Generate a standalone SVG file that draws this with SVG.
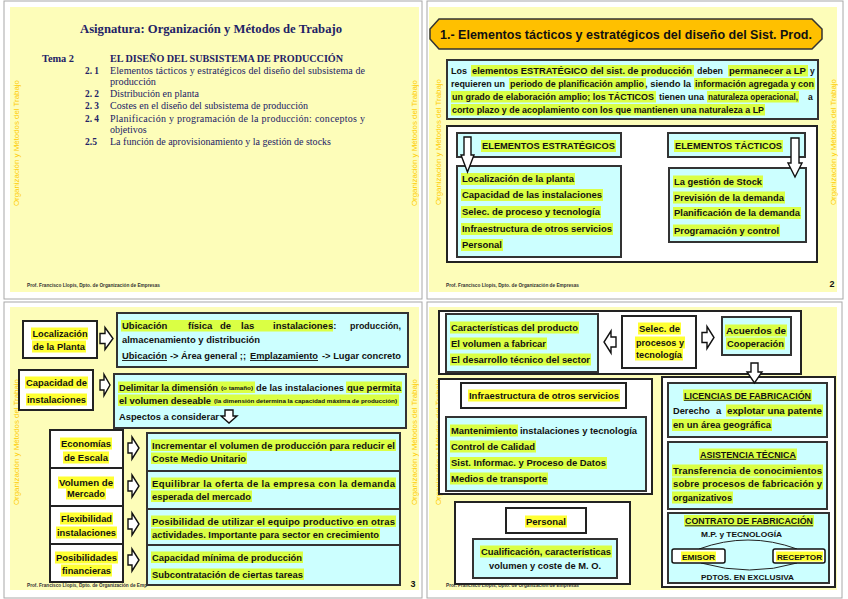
<svg xmlns="http://www.w3.org/2000/svg" width="848" height="599" viewBox="0 0 848 599">
<style>
text{font-family:"Liberation Sans",Arial,sans-serif;fill:#111}
.ser{font-family:"Liberation Serif","Times New Roman",serif;fill:#222266;font-size:10px}
.sb{font-weight:bold}
.frame{fill:#fff;stroke:#a8a8a8;stroke-width:1}
.bg{fill:#fdfdb9}
.side{font-size:7.5px;fill:#ffcc00}
.foot{font-size:5px;font-weight:bold;fill:#333}
.cy{fill:#ccffff;stroke:#333;stroke-width:2}
.wb{fill:#fff;stroke:#222;stroke-width:2}
.hl{fill:#daff44}
.hy{fill:#ffff33}
.arr{fill:#fff;stroke:#111;stroke-width:1.4;stroke-linejoin:miter}
.b{font-weight:bold;font-size:9.5px}
.b85{font-weight:bold;font-size:8.5px}
.b8{font-weight:bold;font-size:8px}
.sm{font-weight:bold;font-size:4.5px}
.ul{stroke:#111;stroke-width:0.9}
.arc{fill:none;stroke:#222;stroke-width:1}
.num{font-weight:bold;font-size:9px}
</style>
<rect width="848" height="599" fill="#fff"/>

<!-- ============ SLIDE 1 ============ -->
<g id="slide1">
<rect class="frame" x="4" y="1" width="418" height="298"/>
<rect class="bg" x="10" y="7" width="409" height="285"/>
<text class="side" transform="translate(19,206) rotate(-90)" textLength="126" lengthAdjust="spacingAndGlyphs">Organización y Métodos del Trabajo</text>
<text class="side" transform="translate(416.5,206) rotate(-90)" textLength="126" lengthAdjust="spacingAndGlyphs">Organización y Métodos del Trabajo</text>
<text class="foot" x="27" y="287" textLength="133" lengthAdjust="spacingAndGlyphs">Prof. Francisco Llopis, Dpto. de Organización de Empresas</text>
<text class="ser sb" x="80" y="33" style="font-size:12.6px" textLength="262" lengthAdjust="spacingAndGlyphs">Asignatura: Organización y Métodos de Trabajo</text>
<text class="ser sb" x="42" y="61.5" textLength="32" lengthAdjust="spacingAndGlyphs">Tema 2</text>
<text class="ser sb" x="110" y="61.5" textLength="233" lengthAdjust="spacingAndGlyphs">EL DISEÑO DEL SUBSISTEMA DE PRODUCCIÓN</text>
<text class="ser sb" x="85" y="74" textLength="14" lengthAdjust="spacingAndGlyphs">2. 1</text>
<text class="ser" x="110" y="74" textLength="255">Elementos tácticos y estratégicos del diseño del subsistema de</text>
<text class="ser" x="110" y="85" textLength="46" lengthAdjust="spacingAndGlyphs">producción</text>
<text class="ser sb" x="85" y="96.5" textLength="14" lengthAdjust="spacingAndGlyphs">2. 2</text>
<text class="ser" x="110" y="96.5" textLength="89" lengthAdjust="spacingAndGlyphs">Distribución en planta</text>
<text class="ser sb" x="85" y="109" textLength="14" lengthAdjust="spacingAndGlyphs">2. 3</text>
<text class="ser" x="110" y="109" textLength="198" lengthAdjust="spacingAndGlyphs">Costes en el diseño del subsistema de producción</text>
<text class="ser sb" x="85" y="121.5" textLength="14" lengthAdjust="spacingAndGlyphs">2. 4</text>
<text class="ser" x="110" y="121.5" textLength="255">Planificación y programación de la producción: conceptos y</text>
<text class="ser" x="110" y="132.5">objetivos</text>
<text class="ser sb" x="85" y="144.5" textLength="12" lengthAdjust="spacingAndGlyphs">2.5</text>
<text class="ser" x="110" y="144.5" textLength="221" lengthAdjust="spacingAndGlyphs">La función de aprovisionamiento y la gestión de stocks</text>
</g>

<!-- ============ SLIDE 2 ============ -->
<g id="slide2">
<rect class="frame" x="427" y="1" width="416" height="298"/>
<rect class="bg" x="429" y="7" width="408" height="285"/>
<text class="side" transform="translate(441,205) rotate(-90)" textLength="126" lengthAdjust="spacingAndGlyphs">Organización y Métodos del Trabajo</text>
<text class="side" transform="translate(835.5,205) rotate(-90)" textLength="126" lengthAdjust="spacingAndGlyphs">Organización y Métodos del Trabajo</text>
<text class="foot" x="446" y="287" textLength="133" lengthAdjust="spacingAndGlyphs">Prof. Francisco Llopis, Dpto. de Organización de Empresas</text>
<text class="num" x="832" y="287" text-anchor="middle">2</text>

<g id="s2-title">
<polygon points="439,19 812,19 822,29 822,39 812,49 439,49 430,39 430,29" fill="#ffc000" stroke="#333" stroke-width="1.5"/>
<text x="440" y="39" style="font-weight:bold;font-size:12.5px" textLength="372" lengthAdjust="spacingAndGlyphs">1.- Elementos tácticos y estratégicos del diseño del Sist. Prod.</text>
</g>

<g id="s2-paragraph">
<rect class="cy" x="447" y="60" width="371" height="59"/>
<rect class="hl" x="471" y="65" width="223" height="11.5"/>
<rect class="hl" x="728" y="65" width="80" height="11.5"/>
<rect class="hl" x="509" y="78" width="137" height="11.5"/>
<rect class="hl" x="694" y="78" width="121" height="11.5"/>
<rect class="hl" x="451" y="91" width="205" height="11.5"/>
<rect class="hl" x="707" y="91" width="92" height="11.5"/>
<rect class="hl" x="451" y="104" width="314" height="11.5"/>
<text class="b85" x="451" y="74" textLength="16" lengthAdjust="spacingAndGlyphs">Los</text>
<text class="b85" x="472" y="74" textLength="220" lengthAdjust="spacingAndGlyphs">elementos ESTRATÉGICO del sist. de producción</text>
<text class="b85" x="697" y="74" textLength="26" lengthAdjust="spacingAndGlyphs">deben</text>
<text class="b85" x="729" y="74" textLength="77" lengthAdjust="spacingAndGlyphs">permanecer a LP</text>
<text class="b85" x="810" y="74">y</text>
<text class="b85" x="451" y="87" textLength="54" lengthAdjust="spacingAndGlyphs">requieren un</text>
<text class="b85" x="510" y="87" textLength="134" lengthAdjust="spacingAndGlyphs">periodo de planificación amplio</text>
<text class="b85" x="645" y="87" textLength="46" lengthAdjust="spacingAndGlyphs">, siendo la</text>
<text class="b85" x="695" y="87" textLength="119" lengthAdjust="spacingAndGlyphs">información agregada y con</text>
<text class="b85" x="452" y="100" textLength="202" lengthAdjust="spacingAndGlyphs">un grado de elaboración amplio; los TÁCTICOS</text>
<text class="b85" x="659" y="100" textLength="45" lengthAdjust="spacingAndGlyphs">tienen una</text>
<text class="b85" x="708" y="100" textLength="90" lengthAdjust="spacingAndGlyphs">naturaleza operacional,</text>
<text class="b85" x="808" y="100">a</text>
<text class="b85" x="452" y="113" textLength="312" lengthAdjust="spacingAndGlyphs">corto plazo y de acoplamiento con los que mantienen una naturaleza a LP</text>
</g>

<g id="s2-panel">
<rect class="wb" x="447" y="126" width="370" height="136"/>
</g>
<g id="s2-estrategicos">
<rect class="cy" x="457" y="133" width="164" height="24"/>
<rect class="hl" x="481" y="140" width="135" height="12"/>
<text class="b" style="font-size:9px" x="482" y="149" textLength="133" lengthAdjust="spacingAndGlyphs">ELEMENTOS ESTRATÉGICOS</text>
</g>
<g id="s2-tacticos">
<rect class="cy" x="668" y="133" width="137" height="24"/>
<rect class="hl" x="674" y="140" width="109" height="12"/>
<text class="b" style="font-size:9px" x="675" y="149" textLength="107" lengthAdjust="spacingAndGlyphs">ELEMENTOS TÁCTICOS</text>
</g>
<g id="s2-list-estr">
<rect class="cy" x="457" y="166" width="164" height="91"/>
<rect class="hl" x="461" y="173" width="114" height="12"/>
<rect class="hl" x="461" y="189" width="142" height="12"/>
<rect class="hl" x="461" y="206" width="140" height="12"/>
<rect class="hl" x="461" y="223" width="152" height="12"/>
<rect class="hl" x="461" y="239" width="42" height="12"/>
<text class="b" x="462" y="182" textLength="112" lengthAdjust="spacingAndGlyphs">Localización de la planta</text>
<text class="b" x="462" y="198" textLength="140" lengthAdjust="spacingAndGlyphs">Capacidad de las instalaciones</text>
<text class="b" x="462" y="215" textLength="138" lengthAdjust="spacingAndGlyphs">Selec. de proceso y tecnología</text>
<text class="b" x="462" y="232" textLength="150" lengthAdjust="spacingAndGlyphs">Infraestructura de otros servicios</text>
<text class="b" x="462" y="248" textLength="40" lengthAdjust="spacingAndGlyphs">Personal</text>
</g>
<g id="s2-list-tact">
<rect class="cy" x="669" y="168" width="137" height="74"/>
<rect class="hl" x="673" y="175.5" width="90" height="12"/>
<rect class="hl" x="673" y="191.5" width="112" height="12"/>
<rect class="hl" x="673" y="207" width="128" height="12"/>
<rect class="hl" x="673" y="224.5" width="107" height="12"/>
<text class="b" x="674" y="184.5" textLength="88" lengthAdjust="spacingAndGlyphs">La gestión de Stock</text>
<text class="b" x="674" y="200.5" textLength="110" lengthAdjust="spacingAndGlyphs">Previsión de la demanda</text>
<text class="b" x="674" y="216" textLength="126" lengthAdjust="spacingAndGlyphs">Planificación de la demanda</text>
<text class="b" x="674" y="233.5" textLength="105" lengthAdjust="spacingAndGlyphs">Programación y control</text>
</g>
<g id="s2-connectors">
<path class="arr" d="M464,137 H471 V155 H474 L467.5,172 L461,155 H464 Z"/>
<path class="arr" d="M791,138 H799 V163 H802 L795,177 L788,163 H791 Z"/>
</g>
</g>

<!-- ============ SLIDE 3 ============ -->
<g id="slide3">
<rect class="frame" x="4" y="302" width="418" height="296"/>
<rect class="bg" x="10" y="307" width="409" height="283"/>
<text class="side" transform="translate(19,505) rotate(-90)" textLength="126" lengthAdjust="spacingAndGlyphs">Organización y Métodos del Trabajo</text>
<text class="side" transform="translate(416.5,505) rotate(-90)" textLength="126" lengthAdjust="spacingAndGlyphs">Organización y Métodos del Trabajo</text>
<text class="foot" x="27" y="587" textLength="120" lengthAdjust="spacingAndGlyphs">Prof. Francisco Llopis, Dpto. de Organización de Emp</text>
<text class="num" x="413" y="587" text-anchor="middle">3</text>

<g id="s3-localizacion">
<rect class="wb" x="23" y="321" width="74" height="37"/>
<rect class="hy" x="31" y="327.5" width="57" height="12"/>
<rect class="hy" x="32" y="340.5" width="54" height="12"/>
<text class="b" x="60" y="336.5" text-anchor="middle" textLength="55" lengthAdjust="spacingAndGlyphs">Localización</text>
<text class="b" x="59" y="349.5" text-anchor="middle" textLength="52" lengthAdjust="spacingAndGlyphs">de la Planta</text>
</g>
<g id="s3-ubicacion">
<rect class="cy" x="117" y="313" width="291" height="54"/>
<rect class="hl" x="121" y="320" width="212" height="11.5"/>
<text class="b" y="329"><tspan x="122">Ubicación</tspan><tspan x="188">física</tspan><tspan x="220">de</tspan><tspan x="241">las</tspan><tspan x="273">instalaciones:</tspan></text>
<text class="b" x="350" y="329" textLength="51" lengthAdjust="spacingAndGlyphs">producción,</text>
<text class="b" x="122" y="342.5" textLength="138" lengthAdjust="spacingAndGlyphs">almacenamiento y distribución</text>
<text class="b" x="122" y="358.5" textLength="45" lengthAdjust="spacingAndGlyphs">Ubicación</text>
<text class="b" x="170" y="358.5" textLength="76" lengthAdjust="spacingAndGlyphs">-&gt; Área general ;;</text>
<text class="b" x="250" y="358.5" textLength="68" lengthAdjust="spacingAndGlyphs">Emplazamiento</text>
<text class="b" x="322" y="358.5" textLength="79" lengthAdjust="spacingAndGlyphs">-&gt; Lugar concreto</text>
<line class="ul" x1="122" y1="360.5" x2="167" y2="360.5"/>
<line class="ul" x1="250" y1="360.5" x2="318" y2="360.5"/>
</g>
<g id="s3-capacidad">
<rect class="wb" x="19" y="370" width="74" height="40"/>
<rect class="hy" x="25" y="376.5" width="63" height="12"/>
<rect class="hy" x="26" y="393.5" width="61" height="12"/>
<text class="b" x="56.5" y="385.5" text-anchor="middle" textLength="61" lengthAdjust="spacingAndGlyphs">Capacidad de</text>
<text class="b" x="56.5" y="402.5" text-anchor="middle" textLength="59" lengthAdjust="spacingAndGlyphs">instalaciones</text>
</g>
<g id="s3-delimitar">
<rect class="cy" x="114" y="374" width="292" height="54"/>
<rect class="hl" x="118" y="381.5" width="102" height="11.5"/>
<rect class="hl" x="220" y="381.5" width="35" height="11.5"/>
<rect class="hl" x="346" y="381.5" width="56" height="11.5"/>
<rect class="hl" x="118" y="394.5" width="95" height="11.5"/>
<rect class="hl" x="213" y="394.5" width="186" height="11.5"/>
<text class="b" x="119" y="390.5" textLength="99" lengthAdjust="spacingAndGlyphs">Delimitar la dimensión</text>
<text class="sm" x="221" y="390" textLength="32" lengthAdjust="spacingAndGlyphs">(o tamaño)</text>
<text class="b" x="256" y="390.5" textLength="88" lengthAdjust="spacingAndGlyphs">de las instalaciones</text>
<text class="b" x="347" y="390.5" textLength="54" lengthAdjust="spacingAndGlyphs">que permita</text>
<text class="b" x="119" y="403.5" textLength="92" lengthAdjust="spacingAndGlyphs">el volumen deseable</text>
<text class="sm" x="214" y="403" textLength="183" lengthAdjust="spacingAndGlyphs">(la dimensión determina la capacidad máxima de producción)</text>
<text class="b" x="119" y="419.5" textLength="100" lengthAdjust="spacingAndGlyphs">Aspectos a considerar</text>
</g>

<g id="s3-economias">
<rect class="wb" x="50" y="430" width="73" height="38"/>
<rect class="hy" x="60" y="437.5" width="52" height="12"/>
<rect class="hy" x="63" y="451.5" width="46" height="12"/>
<text class="b" x="86" y="446.5" text-anchor="middle" textLength="50" lengthAdjust="spacingAndGlyphs">Economías</text>
<text class="b" x="86" y="460.5" text-anchor="middle" textLength="44" lengthAdjust="spacingAndGlyphs">de Escala</text>
</g>
<g id="s3-volumen">
<rect class="wb" x="50" y="468" width="73" height="38"/>
<rect class="hy" x="58" y="476.5" width="56" height="12"/>
<rect class="hy" x="66" y="487.5" width="40" height="12"/>
<text class="b" x="86" y="485.5" text-anchor="middle" textLength="54" lengthAdjust="spacingAndGlyphs">Volumen de</text>
<text class="b" x="86" y="496.5" text-anchor="middle" textLength="38" lengthAdjust="spacingAndGlyphs">Mercado</text>
</g>
<g id="s3-flexibilidad">
<rect class="wb" x="50" y="506" width="73" height="38"/>
<rect class="hy" x="60" y="512.5" width="53" height="12"/>
<rect class="hy" x="56" y="526.5" width="61" height="12"/>
<text class="b" x="86.5" y="521.5" text-anchor="middle" textLength="51" lengthAdjust="spacingAndGlyphs">Flexibilidad</text>
<text class="b" x="86.5" y="535.5" text-anchor="middle" textLength="59" lengthAdjust="spacingAndGlyphs">instalaciones</text>
</g>
<g id="s3-posibilidades">
<rect class="wb" x="50" y="544" width="73" height="38"/>
<rect class="hy" x="55" y="551.5" width="63" height="12"/>
<rect class="hy" x="61" y="564.5" width="51" height="12"/>
<text class="b" x="86.5" y="560.5" text-anchor="middle" textLength="61" lengthAdjust="spacingAndGlyphs">Posibilidades</text>
<text class="b" x="86.5" y="573.5" text-anchor="middle" textLength="49" lengthAdjust="spacingAndGlyphs">financieras</text>
</g>

<g id="s3-row1">
<rect class="cy" x="147" y="433" width="253" height="38"/>
<rect class="hl" x="151" y="439.5" width="245" height="11.5"/>
<rect class="hl" x="151" y="452.5" width="96" height="11.5"/>
<text class="b" x="152" y="448.5" textLength="243">Incrementar el volumen de producción para reducir el</text>
<text class="b" x="152" y="461.5" textLength="94" lengthAdjust="spacingAndGlyphs">Coste Medio Unitario</text>
</g>
<g id="s3-row2">
<rect class="cy" x="147" y="471" width="253" height="38"/>
<rect class="hl" x="151" y="477.5" width="245" height="11.5"/>
<rect class="hl" x="151" y="490.5" width="101" height="11.5"/>
<text class="b" x="152" y="486.5" textLength="243">Equilibrar la oferta de la empresa con la demanda</text>
<text class="b" x="152" y="499.5" textLength="99" lengthAdjust="spacingAndGlyphs">esperada del mercado</text>
</g>
<g id="s3-row3">
<rect class="cy" x="147" y="509" width="253" height="36"/>
<rect class="hl" x="151" y="515.5" width="245" height="11.5"/>
<rect class="hl" x="151" y="528.5" width="229" height="11.5"/>
<text class="b" x="152" y="524.5" textLength="243">Posibilidad de utilizar el equipo productivo en otras</text>
<text class="b" x="152" y="537.5" textLength="227" lengthAdjust="spacingAndGlyphs">actividades. Importante para sector en crecimiento</text>
</g>
<g id="s3-row4">
<rect class="cy" x="147" y="545" width="253" height="40"/>
<rect class="hl" x="151" y="551.5" width="152" height="11.5"/>
<rect class="hl" x="151" y="568.5" width="153" height="11.5"/>
<text class="b" x="152" y="560.5" textLength="150" lengthAdjust="spacingAndGlyphs">Capacidad mínima de producción</text>
<text class="b" x="152" y="577.5" textLength="151" lengthAdjust="spacingAndGlyphs">Subcontratación de ciertas tareas</text>
</g>

<g id="s3-connectors">
<path class="arr" d="M100,333.5 H105 V327.5 L113,338.5 L105,349.5 V343.5 H100 Z"/>
<path class="arr" d="M100,380 H104 V374.5 L110,385 L104,395.5 V390 H100 Z"/>
<path class="arr" d="M225,410 H233 V416 H237 L229,423 L221,416 H225 Z"/>
<path class="arr" d="M128,443 H132 V437 L139,448 L132,459 V453 H128 Z"/>
<path class="arr" d="M128,481 H132 V475 L139,486 L132,497 V491 H128 Z"/>
<path class="arr" d="M128,519 H132 V513 L139,524 L132,535 V529 H128 Z"/>
<path class="arr" d="M128,555 H132 V549 L139,560 L132,571 V565 H128 Z"/>
</g>
</g>

<!-- ============ SLIDE 4 ============ -->
<g id="slide4">
<rect class="frame" x="427" y="302" width="415" height="296"/>
<rect class="bg" x="429" y="307" width="408" height="283"/>
<text class="side" transform="translate(441,505) rotate(-90)" textLength="126" lengthAdjust="spacingAndGlyphs">Organización y Métodos del Trabajo</text>
<text class="foot" x="446" y="587" textLength="133" lengthAdjust="spacingAndGlyphs">Prof. Francisco Llopis, Dpto. de Organización de Empresas</text>

<g id="s4-top-panel">
<rect class="wb" x="439" y="311" width="362" height="63"/>
</g>
<g id="s4-caracteristicas">
<rect class="cy" x="446" y="314" width="152" height="58"/>
<rect class="hl" x="450" y="321.5" width="129" height="12"/>
<rect class="hl" x="450" y="337.5" width="97" height="12"/>
<rect class="hl" x="450" y="353.5" width="141" height="12"/>
<text class="b" x="451" y="330.5" textLength="127" lengthAdjust="spacingAndGlyphs">Características del producto</text>
<text class="b" x="451" y="346.5" textLength="95" lengthAdjust="spacingAndGlyphs">El volumen a fabricar</text>
<text class="b" x="451" y="362.5" textLength="139" lengthAdjust="spacingAndGlyphs">El desarrollo técnico del sector</text>
</g>
<g id="s4-selec">
<rect class="wb" x="622" y="316" width="74" height="52"/>
<rect class="hy" x="638" y="322.5" width="43" height="12"/>
<rect class="hy" x="635" y="336.5" width="50" height="12"/>
<rect class="hy" x="635" y="348.5" width="48" height="12"/>
<text class="b" x="659.5" y="331.5" text-anchor="middle" textLength="41" lengthAdjust="spacingAndGlyphs">Selec. de</text>
<text class="b" x="660" y="345.5" text-anchor="middle" textLength="48" lengthAdjust="spacingAndGlyphs">procesos y</text>
<text class="b" x="659" y="357.5" text-anchor="middle" textLength="46" lengthAdjust="spacingAndGlyphs">tecnología</text>
</g>
<g id="s4-acuerdos">
<rect class="cy" x="722" y="317" width="69" height="38"/>
<rect class="hl" x="725" y="324.5" width="62" height="12"/>
<rect class="hl" x="726" y="337.5" width="59" height="12"/>
<text class="b" x="756" y="333.5" text-anchor="middle" textLength="60" lengthAdjust="spacingAndGlyphs">Acuerdos de</text>
<text class="b" x="755.5" y="346.5" text-anchor="middle" textLength="57" lengthAdjust="spacingAndGlyphs">Cooperación</text>
</g>

<g id="s4-infra-panel">
<rect class="wb" x="439" y="379" width="213" height="115"/>
</g>
<g id="s4-infra">
<rect class="wb" x="461" y="383" width="165" height="25"/>
<rect class="hy" x="468" y="389.5" width="152" height="12"/>
<text class="b" x="544" y="398.5" text-anchor="middle" textLength="150" lengthAdjust="spacingAndGlyphs">Infraestructura de otros servicios</text>
</g>
<g id="s4-infra-list">
<rect class="cy" x="446" y="417" width="200" height="74"/>
<rect class="hl" x="450" y="424.5" width="68" height="12"/>
<rect class="hl" x="450" y="440.5" width="86" height="12"/>
<rect class="hl" x="450" y="457" width="157" height="12"/>
<rect class="hl" x="450" y="472.5" width="98" height="12"/>
<text class="b" x="451" y="433.5" textLength="186" lengthAdjust="spacingAndGlyphs">Mantenimiento instalaciones y tecnología</text>
<text class="b" x="451" y="449.5" textLength="84" lengthAdjust="spacingAndGlyphs">Control de Calidad</text>
<text class="b" x="451" y="466" textLength="155" lengthAdjust="spacingAndGlyphs">Sist. Informac. y Proceso de Datos</text>
<text class="b" x="451" y="481.5" textLength="96" lengthAdjust="spacingAndGlyphs">Medios de transporte</text>
</g>

<g id="s4-personal-panel">
<rect class="wb" x="455" y="502" width="175" height="82"/>
</g>
<g id="s4-personal">
<rect class="wb" x="506" y="508" width="80" height="25"/>
<rect class="hy" x="525" y="515.5" width="42" height="12"/>
<text class="b" x="546" y="524.5" text-anchor="middle" textLength="40" lengthAdjust="spacingAndGlyphs">Personal</text>
</g>
<g id="s4-cualificacion">
<rect class="cy" x="473" y="539" width="144" height="39"/>
<rect class="hl" x="480" y="545.5" width="132" height="12"/>
<text class="b" x="546" y="554.5" text-anchor="middle" textLength="130" lengthAdjust="spacingAndGlyphs">Cualificación, características</text>
<text class="b" x="545" y="568.5" text-anchor="middle" textLength="112" lengthAdjust="spacingAndGlyphs">volumen y coste de M. O.</text>
</g>

<g id="s4-right-panel">
<rect class="wb" x="662" y="377" width="173" height="210"/>
</g>
<g id="s4-licencias">
<rect class="cy" x="668" y="383" width="159" height="54"/>
<rect class="hl" x="683" y="389.5" width="129" height="11.5"/>
<rect class="hl" x="726" y="404.5" width="97" height="12"/>
<rect class="hl" x="672" y="419" width="100" height="12"/>
<text class="b85" x="684" y="398.5" textLength="127" lengthAdjust="spacingAndGlyphs">LICENCIAS DE FABRICACIÓN</text>
<line class="ul" x1="684" y1="400.3" x2="811" y2="400.3"/>
<text class="b" x="673" y="413.5" textLength="37" lengthAdjust="spacingAndGlyphs">Derecho</text>
<text class="b" x="716" y="413.5">a</text>
<text class="b" x="727" y="413.5" textLength="95" lengthAdjust="spacingAndGlyphs">explotar una patente</text>
<text class="b" x="673" y="428" textLength="98" lengthAdjust="spacingAndGlyphs">en un área geográfica</text>
</g>
<g id="s4-asistencia">
<rect class="cy" x="668" y="442" width="159" height="67"/>
<rect class="hl" x="699" y="448.5" width="98" height="11.5"/>
<rect class="hl" x="672" y="464.5" width="151" height="12"/>
<rect class="hl" x="672" y="477.5" width="151" height="12"/>
<rect class="hl" x="672" y="491.5" width="61" height="12"/>
<text class="b85" x="700" y="457.5" textLength="96" lengthAdjust="spacingAndGlyphs">ASISTENCIA TÉCNICA</text>
<line class="ul" x1="700" y1="459.3" x2="796" y2="459.3"/>
<text class="b" x="673" y="473.5" textLength="149">Transferencia de conocimientos</text>
<text class="b" x="673" y="486.5" textLength="149">sobre procesos de fabricación y</text>
<text class="b" x="673" y="500.5" textLength="59" lengthAdjust="spacingAndGlyphs">organizativos</text>
</g>
<g id="s4-contrato">
<rect class="cy" x="668" y="513" width="161" height="70"/>
<rect class="hl" x="684" y="515" width="130" height="11.5"/>
<text class="b85" x="685" y="524" textLength="128" lengthAdjust="spacingAndGlyphs">CONTRATO DE FABRICACIÓN</text>
<line class="ul" x1="685" y1="525.8" x2="813" y2="525.8"/>
<text class="b8" style="font-size:7.5px" x="701" y="537" textLength="81" lengthAdjust="spacingAndGlyphs">M.P. y TECNOLOGÍA</text>
<text class="b8" style="font-size:7.5px" x="701" y="579.5" textLength="93" lengthAdjust="spacingAndGlyphs">PDTOS. EN EXCLUSIVA</text>
<path class="arc" d="M699,549 Q748,531 797,549"/>
<path class="arc" d="M701,563 Q750,577 797,563"/>
</g>
<g id="s4-emisor">
<rect x="672" y="549" width="53" height="14" rx="2" fill="#fff" stroke="#111" stroke-width="1.5"/>
<rect class="hy" x="681" y="551.5" width="35" height="10"/>
<text class="b8" x="698.5" y="559.5" text-anchor="middle" textLength="33" lengthAdjust="spacingAndGlyphs">EMISOR</text>
</g>
<g id="s4-receptor">
<rect x="773" y="549" width="52" height="14" rx="2" fill="#fff" stroke="#111" stroke-width="1.5"/>
<rect class="hy" x="776" y="551.5" width="47" height="10"/>
<text class="b8" x="799.5" y="559.5" text-anchor="middle" textLength="45" lengthAdjust="spacingAndGlyphs">RECEPTOR</text>
</g>

<g id="s4-connectors">
<path class="arr" d="M616,337 H611 V331 L604,342 L611,353 V347 H616 Z"/>
<path class="arr" d="M702,332.5 H707 V326.5 L714,337.5 L707,348.5 V342.5 H702 Z"/>
<path class="arr" d="M751,363 H758 V372 H762 L754.5,383 L747,372 H751 Z"/>
</g>
</g>
</svg>
